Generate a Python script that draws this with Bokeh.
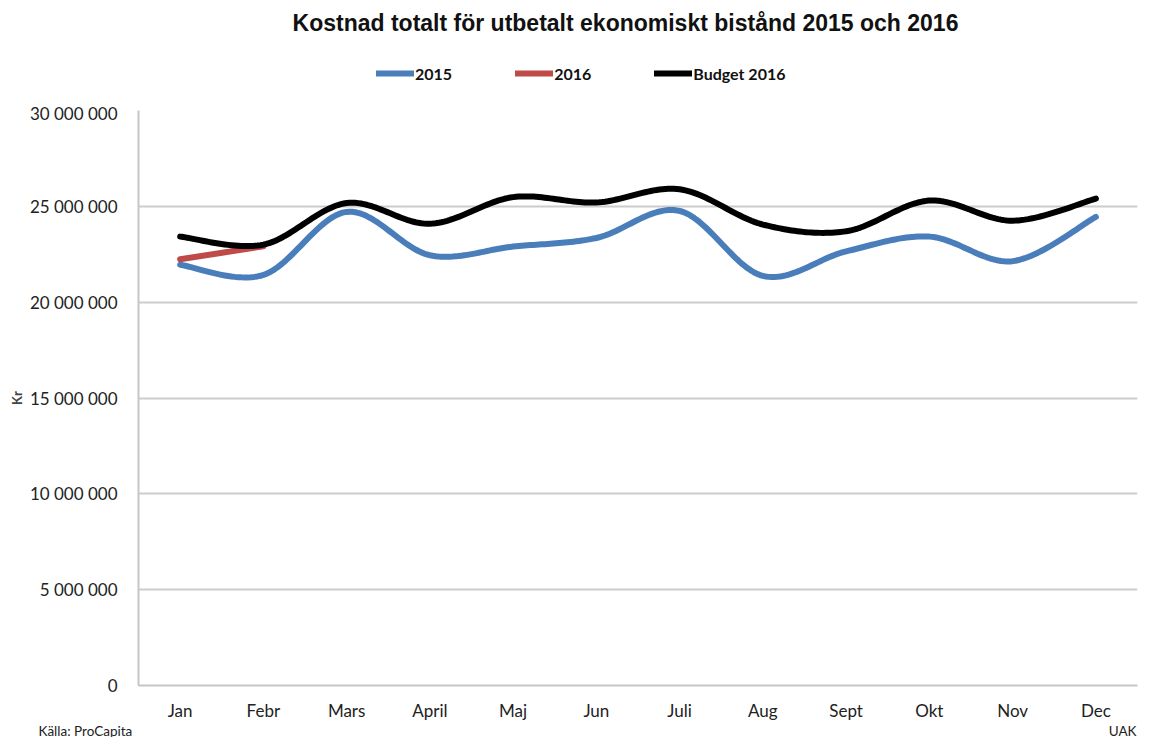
import numpy as np
from bokeh.plotting import figure
from bokeh.layouts import column
from bokeh.models import (Range1d, FixedTicker, Legend, LegendItem, CustomJSTickFormatter)
from bokeh.core.properties import value
from bokeh.embed import file_html
from bokeh.resources import INLINE

months = ["Jan", "Febr", "Mars", "April", "Maj", "Jun", "Juli", "Aug", "Sept", "Okt", "Nov", "Dec"]
cost_2015 = [21950000, 21420000, 24710000, 22450000, 22900000, 23350000,
             24760000, 21370000, 22650000, 23420000, 22140000, 24450000]
cost_2016 = [22240000, 22910000]
budget_2016 = [23420000, 23000000, 25170000, 24090000, 25480000, 25200000,
               25890000, 24050000, 23700000, 25300000, 24250000, 25400000]
y_ticks = [0, 5000000, 10000000, 15000000, 20000000, 25000000, 30000000]
series_names = ["2015", "2016", "Budget 2016"]
series_colors = ["#4a7ebb", "#be4b48", "#000000"]

TITLE = "Kostnad totalt för utbetalt ekonomiskt bistånd 2015 och 2016"
SOURCE = "Källa: ProCapita"
AUTHOR = "UAK"

W = 1138
HEAD_H = 102
FOOT_H = 14
MAIN_H = 737 - HEAD_H - FOOT_H


def smooth(xs, ys, n=30):
    xs = np.asarray(xs, float)
    ys = np.asarray(ys, float)
    m = len(xs)
    if m < 3:
        return xs, ys
    px = np.concatenate([[xs[0]], xs, [xs[-1]]])
    py = np.concatenate([[ys[0]], ys, [ys[-1]]])
    outx, outy = [], []
    t = np.linspace(0, 1, n)
    for i in range(1, m):
        p0x, p0y = px[i], py[i]
        p3x, p3y = px[i + 1], py[i + 1]
        c1x = p0x + (px[i + 1] - px[i - 1]) / 6
        c1y = p0y + (py[i + 1] - py[i - 1]) / 6
        c2x = p3x - (px[i + 2] - px[i]) / 6
        c2y = p3y - (py[i + 2] - py[i]) / 6
        bx = (1 - t) ** 3 * p0x + 3 * (1 - t) ** 2 * t * c1x + 3 * (1 - t) * t ** 2 * c2x + t ** 3 * p3x
        by = (1 - t) ** 3 * p0y + 3 * (1 - t) ** 2 * t * c1y + 3 * (1 - t) * t ** 2 * c2y + t ** 3 * p3y
        outx.extend(bx if i == 1 else bx[1:])
        outy.extend(by if i == 1 else by[1:])
    return np.array(outx), np.array(outy)


def bare(height):
    f = figure(width=W, height=height, output_backend="svg", toolbar_location=None,
               x_range=Range1d(0, W), y_range=Range1d(height, 0),
               x_axis_type=None, y_axis_type=None, frame_align=False,
               min_border=0, min_border_left=0, min_border_right=0,
               min_border_top=0, min_border_bottom=0)
    f.outline_line_color = None
    f.xgrid.visible = False
    f.ygrid.visible = False
    return f


# ---------- header: title + legend ----------
head = bare(HEAD_H)
head.text(x=[625], y=[22], text=[TITLE], text_font=value("Liberation Sans"),
          text_font_style="bold", text_font_size="23px", text_color="#111111",
          text_align="center", text_baseline="middle")
items = []
for name, col in zip(series_names, series_colors):
    r = head.line(x=[np.nan, np.nan], y=[np.nan, np.nan], line_color=col, line_width=6, line_cap="round")
    items.append(LegendItem(label=name, renderers=[r]))
legend = Legend(items=items, orientation="horizontal", location=(376, HEAD_H - 83),
                glyph_width=38, glyph_height=20, label_height=20,
                label_standoff=1, spacing=63, padding=0, margin=0,
                border_line_color=None, background_fill_alpha=0,
                label_text_font="Lato", label_text_font_style="bold",
                label_text_font_size="16px", label_text_color="#111111")
head.add_layout(legend, "center")

# ---------- main chart ----------
xpos = [i + 0.5 for i in range(len(months))]
p = figure(width=W, height=MAIN_H, output_backend="svg", toolbar_location=None,
           x_range=Range1d(0, 12), y_range=Range1d(0, 30000000), frame_align=False,
           min_border_left=138, min_border_right=1, min_border_top=8, min_border_bottom=34)
p.outline_line_color = None

xa = p.xaxis[0]
xa.ticker = FixedTicker(ticks=xpos)
xa.major_label_overrides = {x: m for x, m in zip(xpos, months)}
xa.major_tick_line_color = None
xa.minor_tick_line_color = None
xa.axis_line_color = "#c6c6c6"
xa.axis_line_width = 2
xa.major_label_text_font = "Lato"
xa.major_label_text_font_size = "17px"
xa.major_label_text_color = "#222222"
xa.major_label_standoff = 8

ya = p.yaxis[0]
ya.ticker = FixedTicker(ticks=y_ticks)
ya.formatter = CustomJSTickFormatter(code="""
    return Math.round(tick).toString().replace(/\\B(?=(\\d{3})+(?!\\d))/g, " ");
""")
ya.major_tick_line_color = None
ya.minor_tick_line_color = None
ya.axis_line_color = "#c6c6c6"
ya.axis_line_width = 2
ya.major_label_text_font = "Lato"
ya.major_label_text_font_size = "17px"
ya.major_label_text_color = "#222222"
ya.major_label_standoff = 15
ya.axis_label = "Kr"
ya.axis_label_text_font = "Lato"
ya.axis_label_text_font_style = "bold"
ya.axis_label_text_font_size = "13px"
ya.axis_label_standoff = 2

p.xgrid.grid_line_color = None
p.ygrid.grid_line_color = "#cccccc"
p.ygrid.grid_line_width = 2

for vals, col in zip([cost_2015, cost_2016, budget_2016], series_colors):
    sx, sy = smooth(xpos[:len(vals)], vals)
    p.line(sx, sy, line_color=col, line_width=6, line_cap="round", line_join="round")

# ---------- footer ----------
foot = bare(FOOT_H)
foot.text(x=[38], y=[FOOT_H / 2], text=[SOURCE], text_font=value("Lato"),
          text_font_size="13.5px", text_color="#222222",
          text_align="left", text_baseline="middle")
foot.text(x=[W - 2], y=[FOOT_H / 2], text=[AUTHOR], text_font=value("Lato"),
          text_font_size="13.5px", text_color="#222222",
          text_align="right", text_baseline="middle")

layout = column(head, p, foot, spacing=0)
open("out.html", "w").write(file_html(layout, INLINE))
